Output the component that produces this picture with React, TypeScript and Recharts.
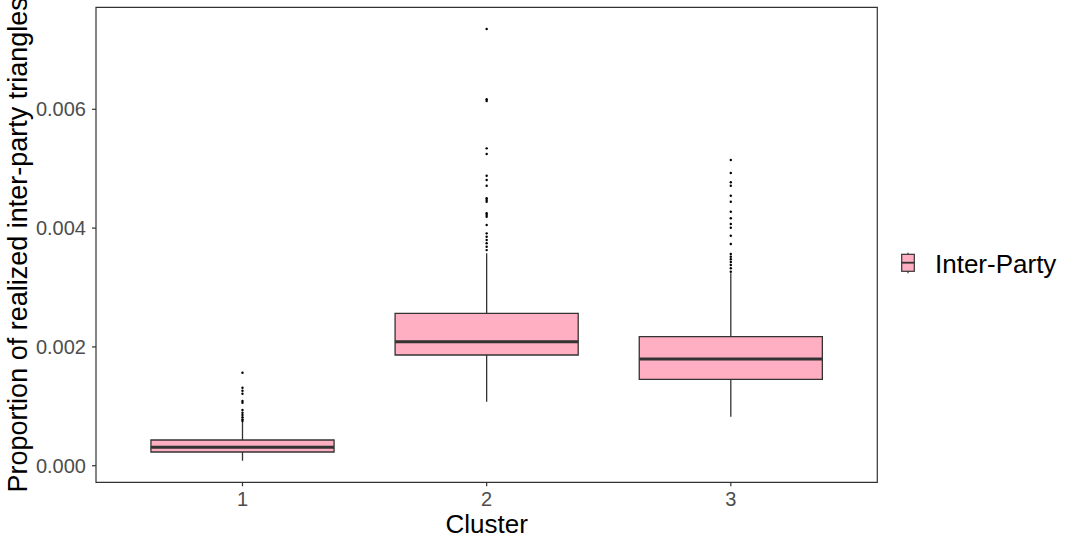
import React from "react";
import {
  ComposedChart,
  XAxis,
  YAxis,
  Scatter,
  ReferenceArea,
  ReferenceLine,
} from "recharts";

const clusters = [1, 2, 3];
const lowerWhisker = [0.000084, 0.001077, 0.000825];
const q1 = [0.000231, 0.001864, 0.001455];
const medians = [0.00031, 0.002088, 0.001796];
const q3 = [0.000433, 0.002566, 0.002172];
const upperWhisker = [0.000736, 0.003576, 0.003239];

const outliers1 = [
  0.001566, 0.001313, 0.001263, 0.001212, 0.001089, 0.001061, 0.000938,
  0.000892, 0.000854, 0.000815, 0.000781, 0.000753,
];
const outliers2 = [
  0.007352, 0.006168, 0.00614, 0.005343, 0.005247, 0.004882, 0.00481,
  0.004714, 0.004502, 0.004473, 0.004444, 0.004249, 0.004221, 0.004192,
  0.004052, 0.003912, 0.003855, 0.0038, 0.003744, 0.003687, 0.00363,
];
const outliers3 = [
  0.005146, 0.004927, 0.004771, 0.004714, 0.004545, 0.004444, 0.004276,
  0.004165, 0.004069, 0.004007, 0.003872, 0.003732, 0.003564, 0.003519,
  0.003475, 0.003429, 0.003379, 0.003323, 0.003266,
];

const yTicks = [0, 0.002, 0.004, 0.006];
const seriesName = "Inter-Party";

const FONT = '"Liberation Sans", Arial, Helvetica, sans-serif';
const BOX_FILL = "#FFAFC1";
const INK = "#333333";
const HALF = 0.375;
const Y_MIN = -0.000279;
const Y_MAX = 0.007717;

const outlierPoints = [outliers1, outliers2, outliers3].flatMap((vals, i) =>
  vals.map((y) => ({ x: clusters[i], y }))
);

const Dot = (props: any) => (
  <circle cx={props.cx} cy={props.cy} r={1.2} fill="#000" />
);

const yTitle = () => (
  <text
    transform="translate(27, 244.8) rotate(-90)"
    x={0}
    y={0}
    textAnchor="middle"
    fontSize={27}
    fontFamily={FONT}
    fill="#000"
  >
    Proportion of realized inter-party triangles
  </text>
);

export default function App() {
  return (
    <div style={{ position: "absolute", left: 0, top: 0, width: 1075, height: 545, background: "#fff" }}>
      <ComposedChart
        width={1075}
        height={545}
        margin={{ top: 7.3, right: 197.7, bottom: 0, left: 0 }}
        style={{ fontFamily: FONT }}
      >
        <XAxis
          dataKey="x"
          type="number"
          domain={[0.4, 3.6]}
          ticks={clusters}
          allowDataOverflow
          height={62.7}
          axisLine={false}
          tickSize={4}
          tickMargin={5}
          tickLine={{ stroke: INK, strokeWidth: 1.2 }}
          tick={{ fill: "#4D4D4D", fontSize: 20, fontFamily: FONT }}
          label={{
            value: "Cluster",
            position: "insideBottom",
            offset: 11.7,
            fill: "#000",
            fontSize: 26,
            fontFamily: FONT,
          }}
        />
        <YAxis
          dataKey="y"
          type="number"
          domain={[Y_MIN, Y_MAX]}
          ticks={yTicks}
          allowDataOverflow
          width={96}
          axisLine={false}
          tickSize={4}
          tickMargin={6}
          tickLine={{ stroke: INK, strokeWidth: 1.2 }}
          tickFormatter={(v: number) => v.toFixed(3)}
          tick={{ fill: "#4D4D4D", fontSize: 20, fontFamily: FONT }}
          label={yTitle}
        />

        {clusters.map((c, i) => (
          <ReferenceLine
            key={`wu${c}`}
            segment={[
              { x: c, y: q3[i] },
              { x: c, y: upperWhisker[i] },
            ]}
            stroke={INK}
            strokeWidth={1.3}
          />
        ))}
        {clusters.map((c, i) => (
          <ReferenceLine
            key={`wl${c}`}
            segment={[
              { x: c, y: q1[i] },
              { x: c, y: lowerWhisker[i] },
            ]}
            stroke={INK}
            strokeWidth={1.3}
          />
        ))}
        {clusters.map((c, i) => (
          <ReferenceArea
            key={`box${c}`}
            x1={c - HALF}
            x2={c + HALF}
            y1={q1[i]}
            y2={q3[i]}
            fill={BOX_FILL}
            fillOpacity={1}
            stroke={INK}
            strokeWidth={1.3}
          />
        ))}
        {clusters.map((c, i) => (
          <ReferenceLine
            key={`med${c}`}
            segment={[
              { x: c - HALF, y: medians[i] },
              { x: c + HALF, y: medians[i] },
            ]}
            stroke={INK}
            strokeWidth={2.9}
          />
        ))}

        <Scatter
          name={seriesName}
          data={outlierPoints}
          dataKey="y"
          shape={Dot}
          isAnimationActive={false}
        />

        <ReferenceArea
          x1={0.4}
          x2={3.6}
          y1={Y_MIN}
          y2={Y_MAX}
          fill="none"
          stroke={INK}
          strokeWidth={1.2}
        />
      </ComposedChart>

      <svg
        width={190}
        height={50}
        style={{ position: "absolute", left: 885, top: 240 }}
      >
        <line x1={23} y1={12.7} x2={23} y2={33.3} stroke={INK} strokeWidth={1.2} />
        <rect x={16.7} y={14.3} width={12.6} height={17} fill={BOX_FILL} stroke={INK} strokeWidth={1.2} />
        <line x1={16.7} y1={22.7} x2={29.3} y2={22.7} stroke={INK} strokeWidth={1.8} />
        <text x={50} y={33.3} fontSize={26} fontFamily={FONT} fill="#000">
          {seriesName}
        </text>
      </svg>
    </div>
  );
}
